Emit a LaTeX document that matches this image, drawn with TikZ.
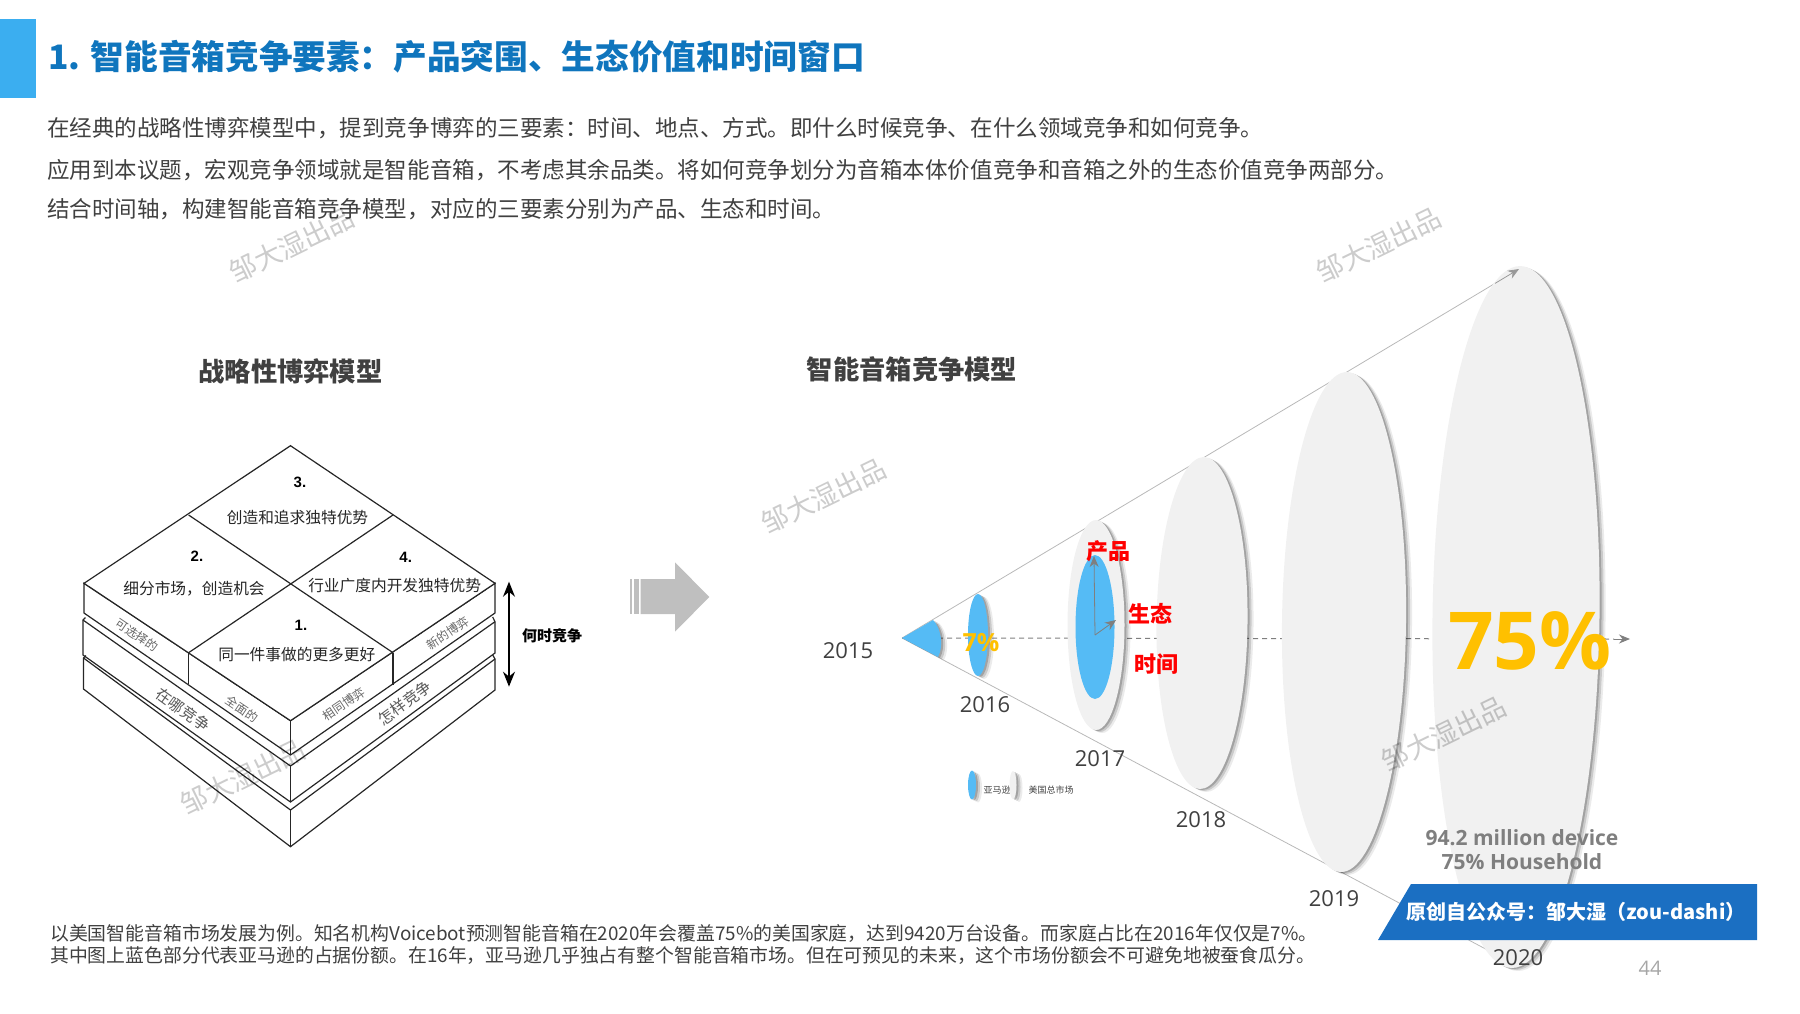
\documentclass[tikz,border=0pt]{standalone}
\usepackage{fontspec}
\setmainfont{Noto Sans CJK SC}
\newfontfamily\latinfont{Open Sans}
\newfontfamily\arialfont{Liberation Sans}
\usetikzlibrary{arrows.meta,shapes,shadows}
\definecolor{zdblue}{RGB}{15,117,189}
\definecolor{zdbar}{RGB}{59,174,240}
\definecolor{zdsky}{RGB}{85,187,245}
\definecolor{zdbanner}{RGB}{27,111,194}
\definecolor{zdgold}{RGB}{255,192,0}
\definecolor{zdtext}{RGB}{64,64,64}
\definecolor{zdpale}{RGB}{241,241,241}
\definecolor{zdgray}{RGB}{127,127,127}
\newcommand{\fsize}[1]{\fontsize{#1}{#1}\selectfont}
% full-width punctuation
\newcommand{\qcomma}{\char"FF0C\relax}
\newcommand{\qcolon}{\char"FF1A\relax}
\newcommand{\qleft}{\char"FF08\relax}
\newcommand{\qright}{\char"FF09\relax}
\tikzstyle{bodytext} = [anchor=west,inner sep=0pt,color=zdtext,font=\fsize{22.52}]
\tikzstyle{foottext} = [anchor=west,inner sep=0pt,color=zdtext,font=\fsize{18.85}]
\tikzstyle{heading} = [inner sep=0pt,color=zdtext,font=\fsize{26.3}\bfseries]
\tikzstyle{yearlabel} = [inner sep=0pt,color=zdtext,font=\latinfont\fsize{22}]
\tikzstyle{factor} = [inner sep=0pt,color=red,font=\fsize{22}\bfseries]
\tikzstyle{legendtext} = [inner sep=0pt,color=zdtext,font=\fsize{9}]
\tikzstyle{watermark} = [inner sep=0pt,rotate=26,color=black,text opacity=0.2,font=\fsize{27}]
\tikzstyle{cubetext} = [inner sep=0pt,color=black!85,font=\fsize{15.7}]
\tikzstyle{cubenum} = [inner sep=0pt,color=black,font=\arialfont\fsize{15}\bfseries]
\tikzstyle{sidesmall} = [inner sep=0pt,color=black!60,font=\fsize{12}]
\tikzstyle{sidelarge} = [inner sep=0pt,color=black!65,font=\fsize{15.5}]
\tikzstyle{cubeline} = [line width=1.2pt,color=black!85,line join=miter]
\tikzstyle{softshadow} = [drop shadow={shadow xshift=6pt,shadow yshift=-3pt,opacity=0.08,fill=black},
  drop shadow={shadow xshift=4pt,shadow yshift=-2pt,opacity=0.14,fill=black},
  drop shadow={shadow xshift=2pt,shadow yshift=-1pt,opacity=0.2,fill=black}]
\tikzstyle{yearellipse} = [ellipse,inner sep=0pt,fill=zdpale,softshadow]
\tikzstyle{amazonellipse} = [ellipse,inner sep=0pt,fill=zdsky,softshadow]
\tikzstyle{coneline} = [line width=0.8pt,color=black!28]
\tikzstyle{axisline} = [line width=1pt,color=zdgray,dash pattern=on 5pt off 4pt]
\tikzstyle{conearrow} = [-{Stealth[length=11pt,width=9pt]},color=zdgray]
\begin{document}
\begin{tikzpicture}[x=1pt,y=-1pt]
\useasboundingbox (0,0) rectangle (1800,1013);

% Title and intro
\fill[zdbar] (0,19) rectangle (36,98);
\node[anchor=west,inner sep=0pt,color=zdblue,font=\fsize{33.65}\bfseries] (title) at (48,57) {1. 智能音箱竞争要素\qcolon{}产品突围、生态价值和时间窗口};
\node[bodytext] (intro1) at (47,128.5) {在经典的战略性博弈模型中\qcomma{}提到竞争博弈的三要素\qcolon{}时间、地点、方式。即什么时候竞争、在什么领域竞争和如何竞争。};
\node[bodytext] (intro2) at (47,170) {应用到本议题\qcomma{}宏观竞争领域就是智能音箱\qcomma{}不考虑其余品类。将如何竞争划分为音箱本体价值竞争和音箱之外的生态价值竞争两部分。};
\node[bodytext] (intro3) at (47,209.5) {结合时间轴\qcomma{}构建智能音箱竞争模型\qcomma{}对应的三要素分别为产品、生态和时间。};

\node[heading] (gamehead) at (290.5,371) {战略性博弈模型};
\node[heading] (speakerhead) at (912,369) {智能音箱竞争模型};

% Strategy cube
\draw[cubeline] (86,655.5) -- (83.5,658) -- (83.5,689) -- (290.5,846.7) -- (495,690) -- (495,659) -- (492.7,655);
\draw[cubeline] (83.5,658) -- (290.5,810) -- (495,659);
\draw[cubeline] (290.5,810) -- (290.5,846.7);
\draw[cubeline] (85.5,617.5) -- (83,620) -- (83,655) -- (290.5,802) -- (495,653) -- (495,621.7) -- (492.7,617);
\draw[cubeline] (83,620) -- (290.5,766) -- (495,621.7);
\draw[cubeline] (290.5,766) -- (290.5,802);
\draw[cubeline,fill=white] (84,583.3) -- (84,613) -- (290.5,755) -- (495,613) -- (495,583.3) -- (290.5,720.7) -- cycle;
\draw[cubeline,fill=white] (290.5,445.7) -- (495,583.3) -- (290.5,720.7) -- (84,583.3) -- cycle;
\draw[cubeline] (188.6,515) -- (393,652.7);
\draw[cubeline] (393,515) -- (188.6,652.7);
\draw[cubeline] (290.5,720.7) -- (290.5,755);
\draw[cubeline] (188.6,652.7) -- (188.6,684);
\draw[cubeline] (393,652.7) -- (393,685);

\node[cubenum] (num3) at (300,482) {3.};
\node[cubetext] (cell3) at (297.5,517) {创造和追求独特优势};
\node[cubenum] (num2) at (197,556) {2.};
\node[cubetext] (cell2) at (194,589) {细分市场\qcomma{}创造机会};
\node[cubenum] (num4) at (405.7,557) {4.};
\node[cubetext] (cell4) at (394.6,586) {行业广度内开发独特优势};
\node[cubenum] (num1) at (301,625) {1.};
\node[cubetext] (cell1) at (296.8,654.5) {同一件事做的更多更好};
\node[sidesmall,rotate=-34] (optional) at (136.8,635) {可选择的};
\node[sidesmall,rotate=-34] (whole) at (242,709) {全面的};
\node[sidesmall,rotate=34] (samegame) at (344,704) {相同博弈};
\node[sidesmall,rotate=34] (newgame) at (447.5,633) {新的博弈};
\node[sidelarge,rotate=-36] (where) at (183,710) {在哪竞争};
\node[sidelarge,rotate=36] (how) at (404.6,703) {怎样竞争};

\coordinate (whentop) at (509,581.7);
\coordinate (whenbot) at (509,686.7);
\draw[{Stealth[length=15pt,width=12pt]}-{Stealth[length=15pt,width=12pt]},line width=1.3pt] (whentop) -- (whenbot);
\node[inner sep=0pt,font=\fsize{15}\bfseries] (when) at (552,636) {何时竞争};

% Block arrow
\fill[black!25] (630,579) rectangle (632,614);
\fill[black!25] (634,579) rectangle (638.7,614);
\fill[black!25] (640.7,579) -- (675,579) -- (675,562.3) -- (709.3,597) -- (675,631.7) -- (675,614) -- (640.7,614) -- cycle;

% Growth cone
\coordinate (apex) at (902,638);
\coordinate (conetop) at (1519,269);
\coordinate (conebot) at (1510,962);
\coordinate (axisend) at (1630,639);
\coordinate (conemid) at (1495,283.4);
\draw[coneline] (apex) -- (conebot);
\draw[coneline] (apex) -- (conemid);
\draw[axisline] (apex) -- (1614,639);
\draw[conearrow,line width=1pt] (1614,639) -- (axisend);

\fill[zdsky,softshadow] (apex) -- (933,620) .. controls (941,628) and (944,646) .. (938,657) -- cycle;
\node[amazonellipse,minimum width=20pt,minimum height=82pt] (amazon16) at (978,635) {};
\node[yearellipse,minimum width=57pt,minimum height=210pt] (market17) at (1096,625) {};
\node[ellipse,inner sep=0pt,fill=zdsky,minimum width=39pt,minimum height=144pt] (amazon17) at (1095,627) {};
\node[yearellipse,rotate=-0.7,minimum width=91pt,minimum height=332pt] (market18) at (1202,623) {};
\node[yearellipse,rotate=-0.7,minimum width=124pt,minimum height=500pt] (market19) at (1344,622) {};
\node[yearellipse,rotate=-0.7,minimum width=167pt,minimum height=702pt] (market20) at (1516,617) {};
\draw[coneline,conearrow,line width=0.8pt,color=black!40] (conemid) -- (conetop);

% Factor arrows in 2017
\coordinate (origin17) at (1095,635);
\coordinate (prodtip) at (1094,556);
\coordinate (ecotip) at (1116,620);
\draw[conearrow,line width=0.8pt] (origin17) -- (prodtip);
\draw[conearrow,line width=0.8pt] (origin17) -- (ecotip);
\node[factor] (product) at (1108,551) {产品};
\node[factor] (ecology) at (1150,614) {生态};
\node[factor] (timing) at (1156,664) {时间};

\node[inner sep=0pt,color=zdgold,font=\latinfont\fsize{25}\bfseries] (share16) at (981,643) {7\%};
\node[inner sep=0pt,color=zdgold,font=\latinfont\fsize{80}\bfseries] (share20) at (1530,641) {75\%};

% Years
\node[yearlabel] (y2015) at (848,650.5) {2015};
\node[yearlabel] (y2016) at (985,705) {2016};
\node[yearlabel] (y2017) at (1100,759) {2017};
\node[yearlabel] (y2018) at (1201,820) {2018};
\node[yearlabel] (y2019) at (1334,899) {2019};

% Legend
\node[amazonellipse,minimum width=8pt,minimum height=29pt] (legamazon) at (972,785) {};
\node[legendtext] (legamazontext) at (997,790) {亚马逊};
\node[yearellipse,minimum width=7pt,minimum height=28pt] (legmarket) at (1013,785) {};
\node[legendtext] (legmarkettext) at (1051,790) {美国总市场};

% Notes and banner
\node[inner sep=0pt,align=center,color=zdgray,font=\latinfont\fsize{21}\bfseries] (devices) at (1522,850) {94.2 million device\\[3pt]75\% Household};
\fill[zdbanner] (1378,940) -- (1411,884) -- (1757,884) -- (1757,940) -- cycle;
\node[inner sep=0pt,color=white,font=\fsize{20}\bfseries] (source) at (1576,912) {原创自公众号\qcolon{}邹大湿\qleft{}zou-dashi\qright{}};
\node[yearlabel] (y2020) at (1518,958) {2020};
\node[inner sep=0pt,color=black!35,font=\latinfont\fsize{20}] (page) at (1650,968) {44};
\node[foottext] (foot1) at (50,933) {以美国智能音箱市场发展为例。知名机构Voicebot预测智能音箱在2020年会覆盖75\%的美国家庭\qcomma{}达到9420万台设备。而家庭占比在2016年仅仅是7\%。};
\node[foottext] (foot2) at (50,956) {其中图上蓝色部分代表亚马逊的占据份额。在16年\qcomma{}亚马逊几乎独占有整个智能音箱市场。但在可预见的未来\qcomma{}这个市场份额会不可避免地被蚕食瓜分。};

% Watermarks
\node[watermark] (wm1) at (292,245) {邹大湿出品};
\node[watermark] (wm2) at (1379,245) {邹大湿出品};
\node[watermark] (wm3) at (824,496) {邹大湿出品};
\node[watermark] (wm4) at (243,777) {邹大湿出品};
\node[watermark] (wm5) at (1444,734) {邹大湿出品};
\end{tikzpicture}
\end{document}
